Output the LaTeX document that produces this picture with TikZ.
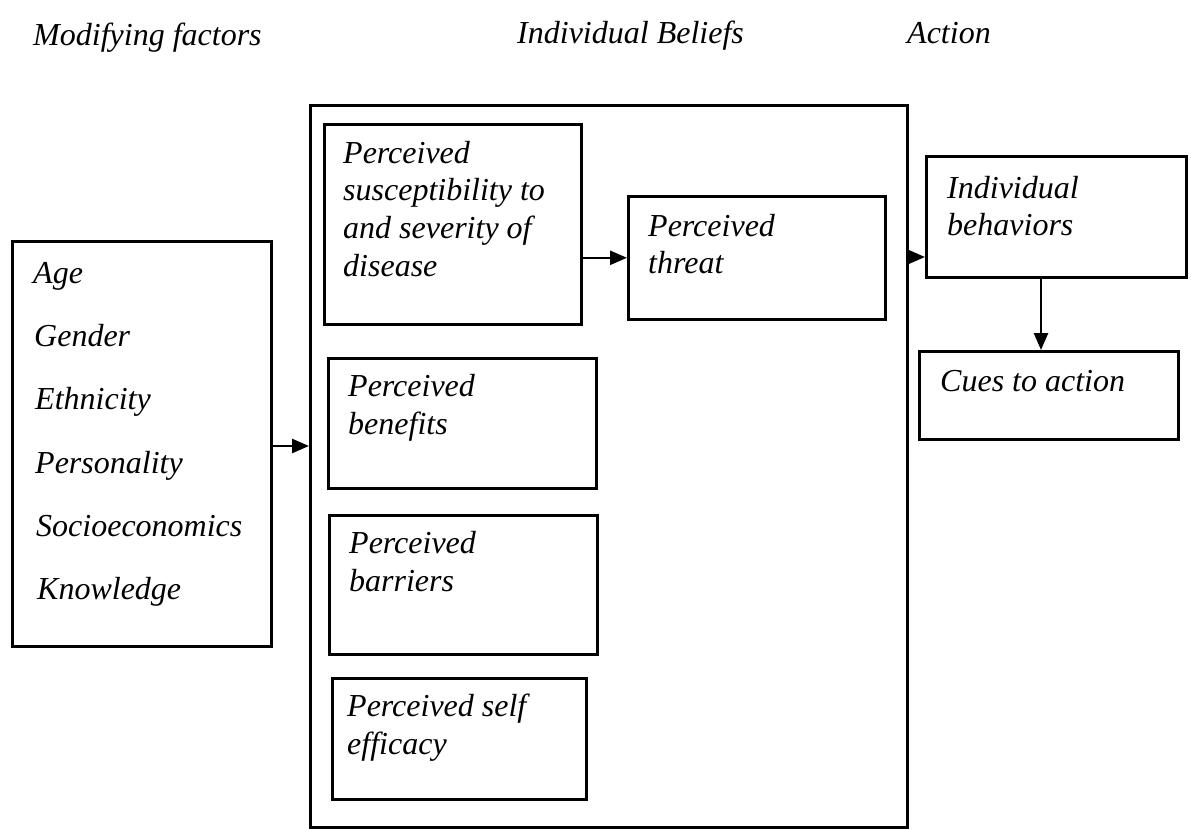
\documentclass[tikz,border=0pt]{standalone}
\usepackage{fontspec}
\setmainfont{Liberation Serif}
\usetikzlibrary{arrows.meta}
\tikzset{
  boxline/.style={draw=black, line width=2.6pt},
  txt/.style={anchor=base west, inner sep=0pt, font=\fontsize{32}{38}\selectfont\itshape},
  arr/.style={draw=black, line width=2.6pt, -{Triangle[length=17pt,width=14pt]}, shorten >=0pt}
}
\begin{document}
\begin{tikzpicture}[x=1pt,y=-1pt]
\useasboundingbox[fill=white] (0,0) rectangle (1191,828);
% boxes
\node[boxline, inner sep=0pt, minimum width=259pt, minimum height=405pt, anchor=north west] (left) at (11,240) {};
\node[boxline, inner sep=0pt, minimum width=597pt, minimum height=722pt, anchor=north west] (big) at (309,104) {};
\node[boxline, inner sep=0pt, minimum width=257pt, minimum height=200pt, anchor=north west] (sus) at (323,123) {};
\node[boxline, inner sep=0pt, minimum width=257pt, minimum height=123pt, anchor=north west] (thr) at (627,195) {};
\node[boxline, inner sep=0pt, minimum width=268pt, minimum height=130pt, anchor=north west] (ben) at (327,357) {};
\node[boxline, inner sep=0pt, minimum width=268pt, minimum height=139pt, anchor=north west] (bar) at (328,514) {};
\node[boxline, inner sep=0pt, minimum width=254pt, minimum height=121pt, anchor=north west] (slf) at (331,677) {};
\node[boxline, inner sep=0pt, minimum width=260pt, minimum height=121pt, anchor=north west] (beh) at (925,155) {};
\node[boxline, inner sep=0pt, minimum width=259pt, minimum height=88pt, anchor=north west] (cue) at (918,350) {};
% headers
\node[txt] (h1) at (33,45) {Modifying factors};
\node[txt] (h2) at (517,43) {Individual Beliefs};
\node[txt] (h3) at (907,43) {Action};
% modifying factors
\node[txt] (m1) at (33,283) {Age};
\node[txt] (m2) at (34,346) {Gender};
\node[txt] (m3) at (35,409) {Ethnicity};
\node[txt] (m4) at (35,473) {Personality};
\node[txt] (m5) at (36,536) {Socioeconomics};
\node[txt] (m6) at (37,599) {Knowledge};
% susceptibility
\node[txt] (s1) at (343,163) {Perceived};
\node[txt] (s2) at (343,200) {susceptibility to};
\node[txt] (s3) at (343,238) {and severity of};
\node[txt] (s4) at (343,276) {disease};
% threat
\node[txt] (t1) at (648,236) {Perceived};
\node[txt] (t2) at (648,273) {threat};
% benefits
\node[txt] (b1) at (348,396) {Perceived};
\node[txt] (b2) at (348,434) {benefits};
% barriers
\node[txt] (r1) at (349,553) {Perceived};
\node[txt] (r2) at (349,591) {barriers};
% self efficacy
\node[txt] (e1) at (347,716) {Perceived self};
\node[txt] (e2) at (347,754) {efficacy};
% behaviors
\node[txt] (i1) at (947,198) {Individual};
\node[txt] (i2) at (947,235) {behaviors};
% cues
\node[txt] (c1) at (940,391) {Cues to action};
% connectors
\coordinate (a1) at (270,446);
\coordinate (a3) at (906,257);
\coordinate (a4) at (1041,276);
\draw[arr] (a1) -- (a1 -| big.west);
\draw[arr] (sus.east |- thr.west) -- (thr.west);
\draw[arr] (a3) -- (a3 -| beh.west);
\draw[arr] (a4) -- (a4 |- cue.north);
\end{tikzpicture}
\end{document}
